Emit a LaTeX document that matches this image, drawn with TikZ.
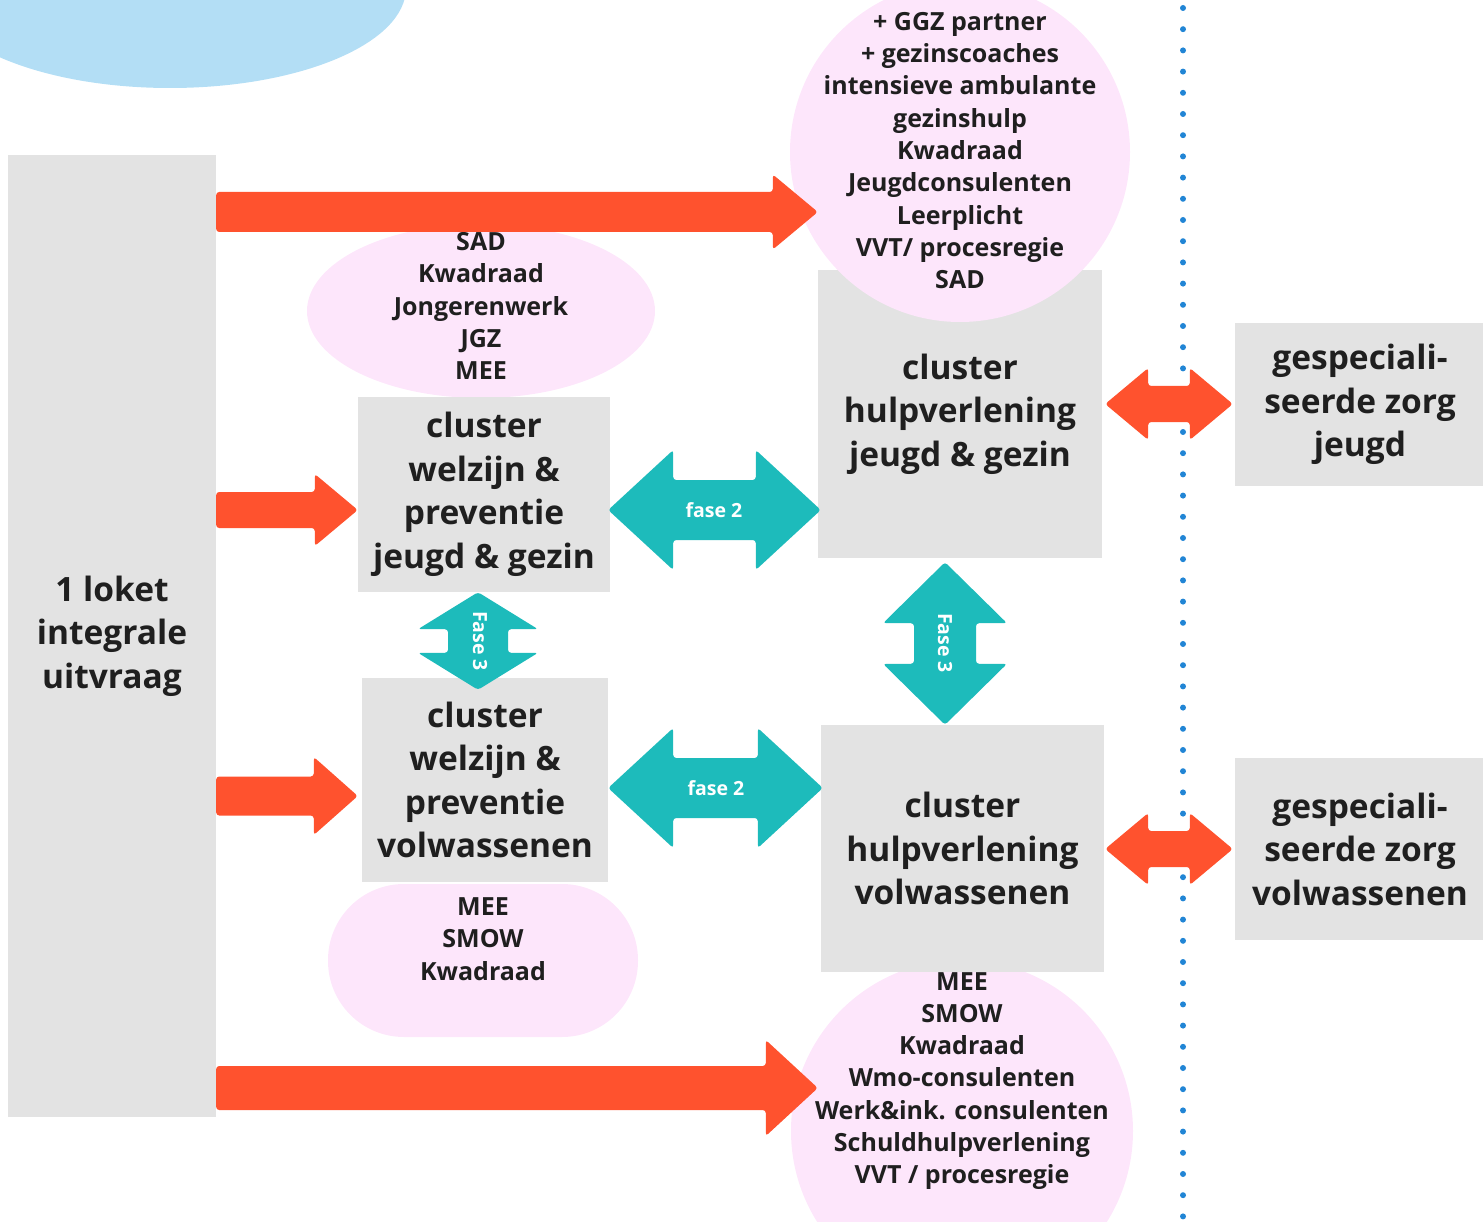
\documentclass[tikz,border=0pt]{standalone}
\usepackage{fontspec}
\setmainfont{Open Sans}
\usetikzlibrary{calc}

\definecolor{boxgray}{HTML}{E3E3E3}
\definecolor{pinkfill}{HTML}{FDE6FB}
\definecolor{arrowred}{HTML}{FF522E}
\definecolor{arrowteal}{HTML}{1DBBBB}
\definecolor{bluefill}{HTML}{B3DEF5}
\definecolor{dotblue}{HTML}{2185D5}
\definecolor{textdark}{HTML}{1F1F1F}

\newcommand{\clusterfont}{\fontsize{33.5}{43.5}\selectfont\bfseries}
\newcommand{\partnerfont}{\fontsize{25}{32.3}\selectfont\bfseries}
\newcommand{\fasefont}{\fontsize{19.5}{22}\selectfont\bfseries}

% block arrow to the right: style, from, to, shaft half, head half, head length
\newcommand{\blockarrow}[6]{%
  \fill[#1] let \p1=(#2), \p2=(#3) in
    (\x1,\y1+#4) -- (\x2-#6,\y1+#4) -- (\x2-#6,\y1+#5) -- (\x2,\y1)
    -- (\x2-#6,\y1-#5) -- (\x2-#6,\y1-#4) -- (\x1,\y1-#4) -- cycle;}
% double block arrow, horizontal
\newcommand{\dblarrowh}[6]{%
  \fill[#1] let \p1=(#2), \p2=(#3) in
    (\x1,\y1) -- (\x1+#6,\y1+#5) -- (\x1+#6,\y1+#4) -- (\x2-#6,\y1+#4)
    -- (\x2-#6,\y1+#5) -- (\x2,\y1) -- (\x2-#6,\y1-#5) -- (\x2-#6,\y1-#4)
    -- (\x1+#6,\y1-#4) -- (\x1+#6,\y1-#5) -- cycle;}
% double block arrow, vertical (from top to bottom)
\newcommand{\dblarrowv}[6]{%
  \fill[#1] let \p1=(#2), \p2=(#3) in
    (\x1,\y1) -- (\x1+#5,\y1-#6) -- (\x1+#4,\y1-#6) -- (\x1+#4,\y2+#6)
    -- (\x1+#5,\y2+#6) -- (\x1,\y2) -- (\x1-#5,\y2+#6) -- (\x1-#4,\y2+#6)
    -- (\x1-#4,\y1-#6) -- (\x1-#5,\y1-#6) -- cycle;}

\tikzset{
  greybox/.style={fill=boxgray, inner sep=0pt, align=center, text=textdark, font=\clusterfont},
  partners/.style={align=center, text=textdark, font=\partnerfont, inner sep=0pt},
  fase/.style={text=white, font=\fasefont, inner sep=0pt},
  redarrow/.style={fill=arrowred, rounded corners=3pt},
  tealarrow/.style={fill=arrowteal, rounded corners=3pt},
}

\begin{document}
\begin{tikzpicture}[x=1pt,y=-1pt]
	\useasboundingbox (0,0) rectangle (1483,1222);
	\clip (0,0) rectangle (1483,1222);
	
	% blue cloud top left
	\fill[bluefill] (170,-12) ellipse [x radius=236pt, y radius=100pt];
	
	% dotted border
	\draw[dotblue, line width=6pt, line cap=round, dash pattern=on 0pt off 21.2pt]
	(1183,8) -- (1183,1222);
	
	% pink partner shapes behind the boxes
	\fill[pinkfill] (481,311) ellipse [x radius=174pt, y radius=87pt];
	\fill[pinkfill, rounded corners=76pt] (328,884) rectangle (638,1037);
	\fill[pinkfill] (962,1131) circle [radius=171pt];
	
	% boxes
	\node[greybox, minimum width=208pt, minimum height=962pt] (loket) at (112,636)
	{1 loket\\integrale\\uitvraag};
	\node[greybox, minimum width=252pt, minimum height=195pt] (wjg) at (484,494.5)
	{cluster\\welzijn \&\\preventie\\jeugd \& gezin};
	\node[greybox, minimum width=246pt, minimum height=204pt] (wjv) at (485,780)
	{cluster\\welzijn \&\\preventie\\volwassenen};
	\node[greybox, minimum width=284pt, minimum height=288pt] (hjg) at (960,414)
	{cluster\\hulpverlening\\jeugd \& gezin};
	\node[greybox, minimum width=283pt, minimum height=247pt] (hjv) at (962.5,848.5)
	{cluster\\hulpverlening\\volwassenen};
	\node[greybox, minimum width=250pt, minimum height=163pt] (gzj) at (1360,404.5)
	{gespeciali-\\seerde zorg\\jeugd};
	\node[greybox, minimum width=250pt, minimum height=182pt] (gzv) at (1360,849)
	{gespeciali-\\seerde zorg\\volwassenen};
	
	% pink circle over the top of hulpverlening jeugd
	\fill[pinkfill] (960,152) circle [radius=170pt];
	
	% partner texts
	\node[partners] (pwjg) at (481,306)
	{SAD\\Kwadraad\\Jongerenwerk\\JGZ\\MEE};
	\node[partners] (pwjv) at (483,939)
	{MEE\\SMOW\\Kwadraad};
	\node[partners] (phjg) at (960,150.5)
	{+ GGZ partner\\+ gezinscoaches\\intensieve ambulante\\gezinshulp\\Kwadraad\\Jeugdconsulenten\\Leerplicht\\VVT/ procesregie\\SAD};
	\node[partners] (phjv) at (962,1081)
	{MEE\\SMOW\\Kwadraad\\Wmo-consulenten\\Werk\&ink. consulenten\\Schuldhulpverlening\\VVT / procesregie};
	
	% red arrows from the loket
	\blockarrow{redarrow}{loket.east |- 0,212}{hjg.west |- 0,212}{20pt}{37.5pt}{45pt}
	\blockarrow{redarrow}{loket.east |- 0,510}{wjg.west |- 0,510}{18pt}{36pt}{43pt}
	\blockarrow{redarrow}{loket.east |- 0,796}{$(wjv.west |- 0,796)+(-4,0)$}{19.5pt}{39pt}{44pt}
	\blockarrow{redarrow}{loket.east |- 0,1088}{$(hjv.west |- 0,1088)+(-3,0)$}{22pt}{48pt}{52pt}
	
	% red arrows to specialised care
	\dblarrowh{redarrow}{$(hjg.east |- 0,404)+(3,0)$}{$(gzj.west |- 0,404)+(-2,0)$}{18pt}{36pt}{43pt}
	\dblarrowh{redarrow}{$(hjv.east |- 0,849)+(1,0)$}{$(gzv.west |- 0,849)+(-2,0)$}{18pt}{36pt}{43pt}
	
	% teal arrows between the clusters
	\dblarrowh{tealarrow}{$(wjg.east |- 0,510)+(-2,0)$}{$(hjg.west |- 0,510)+(3,0)$}{30pt}{60pt}{65pt}
	\dblarrowh{tealarrow}{wjv.east |- 0,788}{$(hjv.west |- 0,788)+(2,0)$}{30pt}{60pt}{65pt}
	\dblarrowv{tealarrow}{wjg.south -| 478,0}{$(wjv.north -| 478,0)+(0,12)$}{30pt}{60pt}{37pt}
	\dblarrowv{tealarrow}{$(hjg.south -| 945,0)+(0,4)$}{hjv.north -| 945,0}{31pt}{62pt}{61pt}
	
	\node[fase] (fase2a) at (714,510) {fase 2};
	\node[fase] (fase2b) at (716,788) {fase 2};
	\node[fase, rotate=-90] (fase3a) at (480,641) {Fase 3};
	\node[fase, rotate=-90] (fase3b) at (945,643) {Fase 3};
\end{tikzpicture}
\end{document}
